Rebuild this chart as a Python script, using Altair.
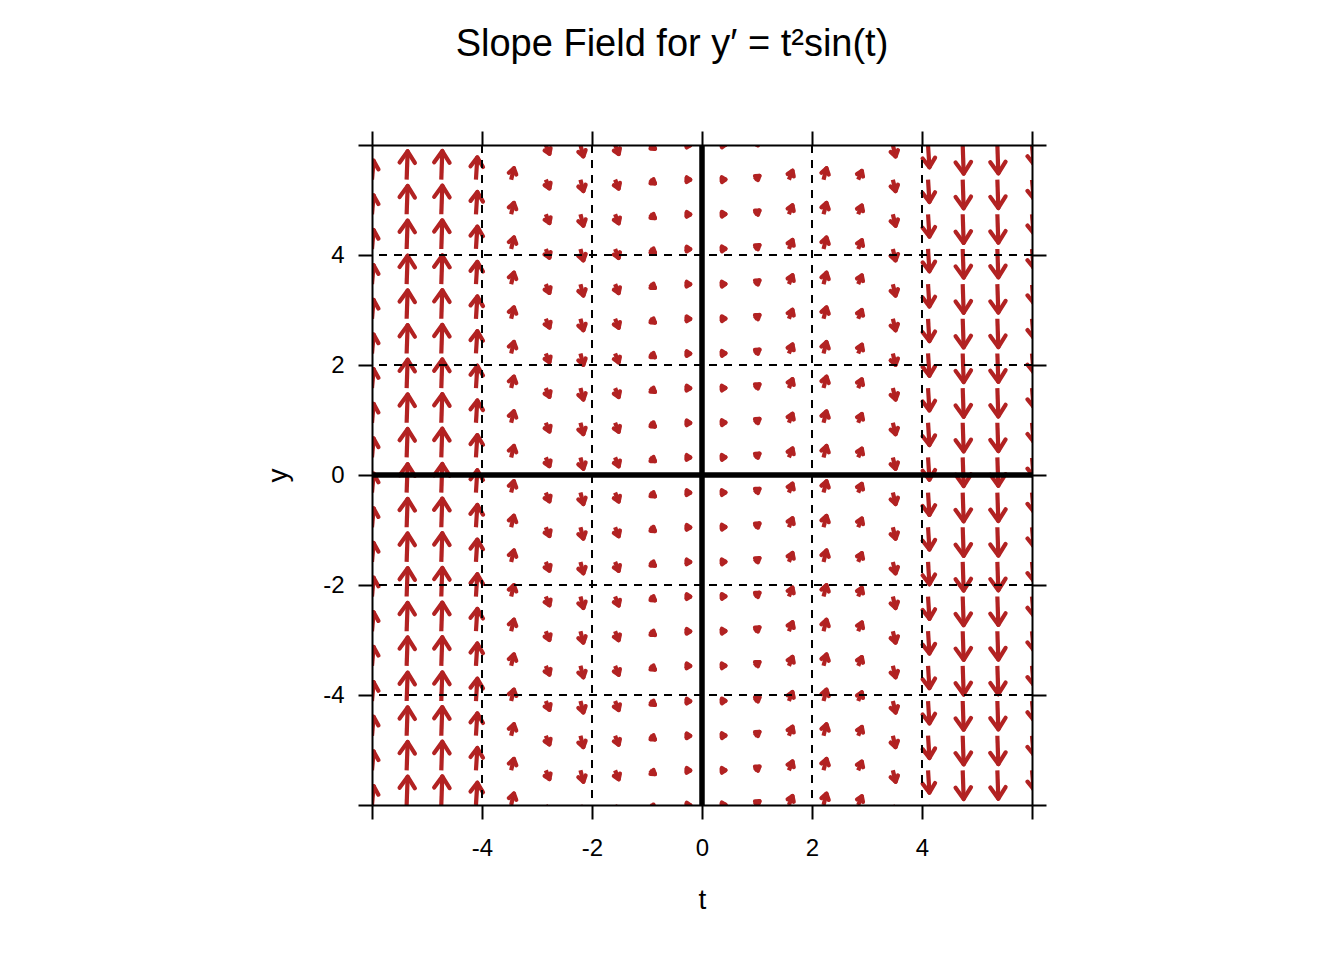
import altair as alt
import numpy as np
import pandas as pd

# ---- data ----
# column positions (t) and row positions (y) of the arrow tails
t_cols = [-6.00, -5.37, -4.74, -4.11, -3.47, -2.84, -2.21, -1.58, -0.95, -0.32,
          0.32, 0.95, 1.58, 2.21, 2.84, 3.47, 4.11, 4.74, 5.37, 6.00]
y_rows = [-6.00, -5.37, -4.74, -4.11, -3.47, -2.84, -2.21, -1.58, -0.95, -0.32,
          0.32, 0.95, 1.58, 2.21, 2.84, 3.47, 4.11, 4.74, 5.37, 6.00]
# arrow components per column (data units)
dx_col = [0.030, 0.018, 0.018, 0.025, 0.050, 0.066, 0.053, 0.065, 0.095, 0.106,
          0.106, 0.095, 0.065, 0.053, 0.066, 0.050, 0.025, 0.018, 0.018, 0.030]
dy_col = [0.343, 0.515, 0.520, 0.405, 0.208, -0.159, -0.207, -0.163, -0.069, -0.003,
          0.003, 0.069, 0.163, 0.207, 0.159, -0.208, -0.405, -0.520, -0.515, -0.343]

tick_values = [-6, -4, -2, 0, 2, 4, 6]
grid_values = [-4, -2, 2, 4]
zero_values = [0]

# ---- styling helpers ----
PX = 55.0            # pixels per data unit
HEAD_ANGLE = np.deg2rad(34)
RED = "#B22222"
FONT = "Liberation Sans"

shaft_rows, wing_rows = [], []
for t, dx, dy in zip(t_cols, dx_col, dy_col):
    L = float(np.hypot(dx, dy))
    ux, uy = dx / L, dy / L
    h = 0.42 * L + 1.8 / PX
    for y in y_rows:
        tx, ty = t + dx, y + dy
        shaft_rows.append({"t": t, "y": y, "tx": tx, "ty": ty})
        for s in (1, -1):
            a = s * HEAD_ANGLE
            rx = ux * np.cos(a) - uy * np.sin(a)
            ry = ux * np.sin(a) + uy * np.cos(a)
            wing_rows.append({"tx": tx, "ty": ty, "wx": tx - h * rx, "wy": ty - h * ry})

shafts_df = pd.DataFrame(shaft_rows)
wings_df = pd.DataFrame(wing_rows)
grid_df = pd.DataFrame({"v": grid_values})
zero_df = pd.DataFrame({"v": zero_values})

xs = alt.Scale(domain=[-6, 6], nice=False, zero=False)
ys = alt.Scale(domain=[-6, 6], nice=False, zero=False)

label_expr = "abs(datum.value) == 6 ? '' : '' + datum.value"
common_axis = dict(values=tick_values, tickSize=14, tickWidth=2, tickColor="black",
                   domainColor="black", domainWidth=2, grid=False, zindex=1,
                   labelFont=FONT, labelFontSize=24, labelColor="black",
                   labelFlush=False, labelOverlap=False,
                   titleFont=FONT, titleFontSize=28, titleFontWeight="normal",
                   titleColor="black")

x_bottom = alt.Axis(orient="bottom", labelExpr=label_expr, title="t",
                    labelPadding=17, titlePadding=26, **common_axis)
y_left = alt.Axis(orient="left", labelExpr=label_expr, title="y",
                  labelPadding=14, titlePadding=30, **common_axis)
x_top = alt.Axis(orient="top", labels=False, title="", **common_axis)
y_right = alt.Axis(orient="right", labels=False, title="", **common_axis)

shafts = alt.Chart(shafts_df).mark_rule(color=RED, strokeWidth=4.2, clip=True,
                                        strokeCap="butt").encode(
    x=alt.X("t:Q", scale=xs, axis=x_bottom),
    y=alt.Y("y:Q", scale=ys, axis=y_left),
    x2="tx:Q", y2="ty:Q")

wings = alt.Chart(wings_df).mark_rule(color=RED, strokeWidth=4.2, clip=True,
                                      strokeCap="round").encode(
    x=alt.X("tx:Q", scale=xs, axis=None),
    y=alt.Y("ty:Q", scale=ys, axis=None),
    x2="wx:Q", y2="wy:Q")

vgrid = alt.Chart(grid_df).mark_rule(color="black", strokeWidth=2,
                                     strokeDash=[8, 7]).encode(
    x=alt.X("v:Q", scale=xs, axis=x_top))
hgrid = alt.Chart(grid_df).mark_rule(color="black", strokeWidth=2,
                                     strokeDash=[8, 7]).encode(
    y=alt.Y("v:Q", scale=ys, axis=y_right))
vzero = alt.Chart(zero_df).mark_rule(color="black", strokeWidth=5.5).encode(
    x=alt.X("v:Q", scale=xs, axis=None))
hzero = alt.Chart(zero_df).mark_rule(color="black", strokeWidth=5.5).encode(
    y=alt.Y("v:Q", scale=ys, axis=None))

chart = alt.layer(shafts, wings, vgrid, hgrid, vzero, hzero).resolve_axis(
    x="independent", y="independent"
).properties(
    width=660, height=660,
    title=alt.TitleParams(text="Slope Field for y′ = t²sin(t)", font=FONT,
                          fontSize=38, fontWeight="normal", color="black",
                          anchor="middle", frame="group", dx=-30,
                          baseline="alphabetic", offset=36),
    padding={"left": 364, "top": 137, "right": 40, "bottom": 140},
    autosize=alt.AutoSizeParams(type="none"),
    background="white",
).configure_view(stroke=None)

chart.save("out.html", embed_options={"renderer": "svg", "actions": False})
